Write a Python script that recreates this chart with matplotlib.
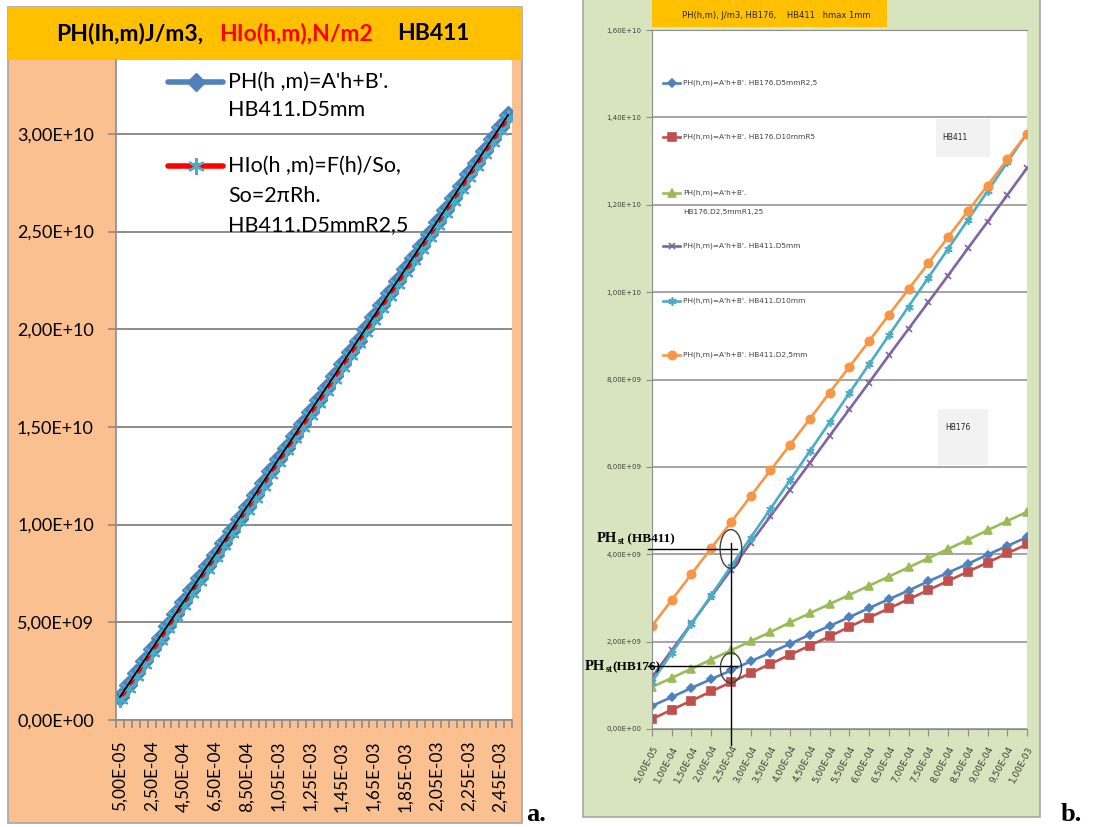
import numpy as np
import matplotlib.pyplot as plt
from matplotlib import font_manager
from matplotlib.patches import Rectangle, Ellipse

# ---- data: panel a (HB411, D5mm) ----
h_a = ['%.2E' % (5e-5 * (i + 1)) for i in range(50)]
h_a = [s.replace('.', ',') for s in h_a]
ph_a = [1.18, 1.79, 2.40, 3.00, 3.61, 4.22, 4.83, 5.43, 6.04, 6.65,
        7.26, 7.87, 8.47, 9.08, 9.69, 10.30, 10.90, 11.51, 12.12, 12.73,
        13.34, 13.94, 14.55, 15.16, 15.77, 16.38, 16.98, 17.59, 18.20, 18.81,
        19.41, 20.02, 20.63, 21.24, 21.85, 22.45, 23.06, 23.67, 24.28, 24.88,
        25.49, 26.10, 26.71, 27.32, 27.92, 28.53, 29.14, 29.75, 30.35, 30.96]
hio_a = [1.05, 1.65, 2.26, 2.87, 3.47, 4.08, 4.69, 5.30, 5.90, 6.51,
         7.12, 7.73, 8.33, 8.94, 9.55, 10.16, 10.76, 11.37, 11.98, 12.59,
         13.19, 13.80, 14.41, 15.02, 15.62, 16.23, 16.84, 17.45, 18.05, 18.66,
         19.27, 19.88, 20.48, 21.09, 21.70, 22.31, 22.91, 23.52, 24.13, 24.74,
         25.34, 25.95, 26.56, 27.17, 27.77, 28.38, 28.99, 29.60, 30.20, 30.81]

# ---- data: panel b (x 1e9) ----
h_b = ['5,00E-05', '1,00E-04', '1,50E-04', '2,00E-04', '2,50E-04', '3,00E-04',
       '3,50E-04', '4,00E-04', '4,50E-04', '5,00E-04', '5,50E-04', '6,00E-04',
       '6,50E-04', '7,00E-04', '7,50E-04', '8,00E-04', '8,50E-04', '9,00E-04',
       '9,50E-04', '1,00E-03']
hb176_d5 = [0.53, 0.73, 0.94, 1.14, 1.34, 1.55, 1.75, 1.95, 2.16, 2.36,
            2.56, 2.77, 2.97, 3.17, 3.38, 3.58, 3.78, 3.99, 4.19, 4.39]
hb176_d10 = [0.23, 0.44, 0.65, 0.86, 1.07, 1.28, 1.49, 1.70, 1.91, 2.12,
             2.34, 2.55, 2.76, 2.97, 3.18, 3.39, 3.60, 3.81, 4.02, 4.23]
hb176_d25 = [0.96, 1.17, 1.38, 1.59, 1.80, 2.01, 2.22, 2.44, 2.65, 2.86,
             3.07, 3.28, 3.49, 3.70, 3.91, 4.12, 4.33, 4.55, 4.76, 4.97]
hb411_d5 = [1.19, 1.80, 2.42, 3.03, 3.64, 4.26, 4.87, 5.48, 6.09, 6.71,
            7.32, 7.93, 8.55, 9.16, 9.77, 10.38, 11.00, 11.61, 12.22, 12.84]
hb411_d10 = [1.08, 1.74, 2.40, 3.06, 3.72, 4.38, 5.04, 5.70, 6.36, 7.02,
             7.69, 8.35, 9.01, 9.67, 10.33, 10.99, 11.65, 12.31, 12.97, 13.63]
hb411_d25 = [2.36, 2.95, 3.55, 4.14, 4.73, 5.33, 5.92, 6.51, 7.10, 7.70,
             8.29, 8.88, 9.48, 10.07, 10.66, 11.26, 11.85, 12.44, 13.04, 13.63]

names_b = ["PH(h,m)=A'h+B'. HB176.D5mmR2,5",
           "PH(h,m)=A'h+B'. HB176.D10mmR5",
           "PH(h,m)=A'h+B'.|HB176.D2,5mmR1,25",
           "PH(h,m)=A'h+B'. HB411.D5mm",
           "PH(h,m)=A'h+B'. HB411.D10mm",
           "PH(h,m)=A'h+B'. HB411.D2,5mm"]
series_b = [hb176_d5, hb176_d10, hb176_d25, hb411_d5, hb411_d10, hb411_d25]
colors_b = ['#4F81BD', '#C0504D', '#9BBB59', '#8064A2', '#4BACC6', '#F79646']
markers_b = ['D', 's', '^', 'x', (6, 2, 0), 'o']
msize_b = [4.5, 5.5, 6, 5, 6, 6]

fonts = {f.name for f in font_manager.fontManager.ttflist}
narrow = 'Liberation Sans Narrow' if 'Liberation Sans Narrow' in fonts else 'DejaVu Sans'
nsz = 6.5 if narrow != 'DejaVu Sans' else 5.0
calib = 'Lato'
serif = 'Liberation Serif'

W, H = 1093, 827
fig = plt.figure(figsize=(W / 100, H / 100), dpi=100)


def box(x0, y0, x1, y1):
    return [x0 / W, 1 - y1 / H, (x1 - x0) / W, (y1 - y0) / H]


bg = fig.add_axes([0, 0, 1, 1], zorder=0)
bg.set_xlim(0, W)
bg.set_ylim(H, 0)
bg.axis('off')

# backgrounds
bg.add_patch(Rectangle((8, 7), 514, 816, facecolor='#FAC090', edgecolor='#A6A6A6', lw=1.2))
bg.add_patch(Rectangle((8, 7), 514, 53, facecolor='#FFC000', edgecolor='none'))
bg.add_patch(Rectangle((583, -2), 457, 819, facecolor='#D7E4BD', edgecolor='#A6A6A6', lw=1.2))
bg.add_patch(Rectangle((652, -2), 235, 29, facecolor='#FFC000', edgecolor='none'))

# ---------------- panel a ----------------
axL = fig.add_axes(box(116, 60, 512, 720), zorder=1)
xa = np.arange(len(ph_a))
axL.plot(xa, np.array(ph_a) * 1e9, color='#4F81BD', lw=4, marker='D', ms=9.5, zorder=2)
axL.plot(xa, np.array(hio_a) * 1e9, color='red', lw=2.2, marker=(6, 2, 0), ms=12,
         mec='#4BACC6', mew=1.6, zorder=3)
axL.plot(xa, np.array(ph_a) * 1e9, color='black', lw=1.3, zorder=4)
axL.set_xlim(-0.5, 49.5)
axL.set_ylim(0, 3.378e10)
yt = np.arange(0, 3.01e10, 5e9)
axL.set_yticks(yt)
axL.set_yticklabels([('%.2E' % v).replace('.', ',') for v in yt], family=calib, fontsize=13)
axL.set_xticks(xa[::4])
axL.set_xticklabels(h_a[::4], rotation=90, family=calib, fontsize=12.5)
axL.set_xticks(np.arange(-0.5, 50, 1), minor=True)
axL.tick_params(axis='x', which='major', length=0, pad=15)
axL.tick_params(axis='x', which='minor', length=6, color='#8C8C8C', width=1.2)
axL.tick_params(axis='y', length=6, color='#8C8C8C', width=1.2, pad=10)
axL.yaxis.grid(True, color='#8C8C8C', lw=1.4)
axL.set_axisbelow(True)
for s in ['top', 'right']:
    axL.spines[s].set_visible(False)
for s in ['left', 'bottom']:
    axL.spines[s].set_color('#8C8C8C')
    axL.spines[s].set_linewidth(1.2)

# ---------------- panel b ----------------
axR = fig.add_axes(box(652, 30, 1027, 729), zorder=1)
xb = np.arange(len(h_b))
for vals, c, m, ms in zip(series_b, colors_b, markers_b, msize_b):
    axR.plot(xb, np.array(vals) * 1e9, color=c, lw=1.9, marker=m, ms=ms, mew=1.2)
axR.set_xlim(0, 19)
axR.set_ylim(0, 1.6e10)
ytb = np.arange(0, 1.61e10, 2e9)
axR.set_yticks(ytb)
axR.set_yticklabels([('%.2E' % v).replace('.', ',') for v in ytb], family=narrow,
                    fontsize=nsz, color='#404040')
axR.set_xticks(xb)
axR.set_xticklabels(h_b, rotation=62, ha='right', va='top', rotation_mode='anchor',
                    family=narrow, fontsize=nsz + 1.5, color='#404040')
axR.tick_params(axis='both', length=4, color='#8C8C8C', pad=3.5)
axR.tick_params(axis='x', length=5, pad=6)
axR.yaxis.grid(True, color='#8C8C8C', lw=1.1)
axR.set_axisbelow(True)
for s in ['right']:
    axR.spines[s].set_visible(False)
for s in ['left', 'bottom', 'top']:
    axR.spines[s].set_color('#8C8C8C')

# annotations on panel b
kw = dict(clip_on=False, color='black', lw=1.0, zorder=6)
axR.plot([-0.2, 4.3], [4.12e9, 4.12e9], **kw)
axR.plot([-0.2, 4.3], [1.44e9, 1.44e9], **kw)
axR.plot([4, 4], [4.26e9, -0.37e9], **kw)
axR.add_patch(Ellipse((4, 4.12e9), 1.1, 0.89e9, fill=False, ec='#404040', lw=1.0, clip_on=False, zorder=6))
axR.add_patch(Ellipse((4, 1.40e9), 1.07, 0.69e9, fill=False, ec='#404040', lw=1.0, clip_on=False, zorder=6))

# ---------------- overlay (pixel coords) ----------------
fg = fig.add_axes([0, 0, 1, 1], zorder=5)
fg.set_xlim(0, W)
fg.set_ylim(H, 0)
fg.axis('off')
fg.patch.set_alpha(0)

# title a, three colours
r = fig.canvas.get_renderer()
xpos = 56
for s, c, gap in [('PH(Ih,m)J/m3,', 'black', 16), ('HIo(h,m),N/m2', 'red', 24), ('HB411', 'black', 0)]:
    t = fg.text(xpos, 34, s, color=c, fontsize=16.5, fontweight='bold', family=calib,
                ha='left', va='center')
    bb = t.get_window_extent(r)
    xpos += bb.width + gap

# legend a
lf = 15.5
fg.plot([168, 223], [82, 82], color='#4F81BD', lw=4, solid_capstyle='round')
fg.plot([196], [82], color='#4F81BD', marker='D', ms=9.5)
fg.text(228, 82, "PH(h ,m)=A'h+B'.", family=calib, fontsize=lf, va='center')
fg.text(228, 110, "HB411.D5mm", family=calib, fontsize=lf, va='center')
fg.plot([168, 223], [166, 166], color='red', lw=4, solid_capstyle='round')
fg.plot([196], [166], color='#4BACC6', marker=(6, 2, 0), ms=12, mew=1.6)
fg.text(228, 166, "HIo(h ,m)=F(h)/So,", family=calib, fontsize=lf, va='center')
fg.text(228, 196, "So=2\u03c0Rh.", family=calib, fontsize=lf, va='center')
fg.text(228, 225, "HB411.D5mmR2,5", family=calib, fontsize=lf, va='center')

# title b
fg.text(682, 15, 'PH(h,m), J/m3, HB176,    HB411   hmax 1mm', family=narrow,
        fontsize=nsz + 1, color='#262626', va='center')

# legend b
leg_y = [83, 137, 193, 246, 301, 355]
for y, c, m, ms, lab in zip(leg_y, colors_b, markers_b, msize_b, names_b):
    fg.plot([663, 680], [y, y], color=c, lw=1.9)
    fg.plot([671.5], [y], color=c, marker=m, ms=ms, mew=1.2)
    for k, line in enumerate(lab.split('|')):
        fg.text(683, y + 19 * k, line, family=narrow, fontsize=nsz + 0.3,
                color='#404040', va='center')

# text boxes
fg.add_patch(Rectangle((936, 119), 54, 38, facecolor='#F2F2F2', edgecolor='none'))
fg.text(942, 138, 'HB411', family=narrow, fontsize=nsz + 0.5, color='#262626', va='center')
fg.add_patch(Rectangle((938, 409), 50, 56, facecolor='#F2F2F2', edgecolor='none'))
fg.text(945, 428, 'HB176', family=narrow, fontsize=nsz + 0.5, color='#262626', va='center')

# PHst labels
for x0, y0, tail in [(597, 542, ' (HB411)'), (585, 670, '(HB176)')]:
    t1 = fg.text(x0, y0, 'PH', family=serif, fontweight='bold', fontsize=10.5, va='baseline')
    w1 = t1.get_window_extent(r).width
    t2 = fg.text(x0 + w1, y0 + 2, 'st', family=serif, fontweight='bold', fontsize=7, va='baseline')
    w2 = t2.get_window_extent(r).width
    fg.text(x0 + w1 + w2, y0, tail, family=serif, fontweight='bold', fontsize=9.5, va='baseline')

# panel letters
fg.text(526, 821, 'a.', family=serif, fontweight='bold', fontsize=19, va='baseline')
fg.text(1061, 821, 'b.', family=serif, fontweight='bold', fontsize=19, va='baseline')

fig.savefig('out.png', dpi=100)
